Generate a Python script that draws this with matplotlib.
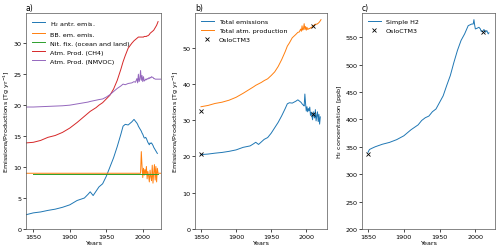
import numpy as np
from matplotlib import pyplot as plt

nan = np.nan

# common year grid for panel a (2025 only used by the flat BB line / NMVOC)
years = [1840, 1850, 1860, 1870, 1880, 1890, 1900, 1910, 1920, 1925, 1928, 1932, 1936,
         1940, 1945, 1950, 1955, 1960, 1965, 1970, 1973, 1976, 1980, 1985, 1988, 1990,
         1992, 1993, 1994, 1995, 1996, 1997, 1998, 1999, 2000, 2001, 2002, 2003, 2004,
         2005, 2006, 2007, 2008, 2009, 2010, 2011, 2012, 2013, 2014, 2015, 2016, 2017,
         2018, 2019, 2020, 2021, 2025]

h2_antr = [2.3, 2.6, 2.75, 3.0, 3.2, 3.5, 3.9, 4.6, 5.0, 5.6, 6.0, 5.4, 6.1,
           6.8, 7.3, 8.5, 10.0, 11.5, 13.3, 15.3, 16.6, 16.9, 16.8, 17.3, 17.7, 17.4,
           17.1, 16.9, 16.6, 16.4, 16.2, 16.0, 15.8, 15.5, 15.3, 15.0, 14.7, 14.7, 14.8,
           14.6, 14.3, 14.0, 13.8, 13.6, 13.9, 13.8, 13.9, 13.7, 13.5, 13.2, 13.0, 12.8,
           12.6, 12.4, 12.2, nan, nan]

bb_emis = [9.0] * 31 + [9.0, 12.5, 10.2, 8.3, 9.8, 8.7, 9.6, 8.9, 10.1, 8.1, 9.3, 8.6,
                        7.6, 9.5, 8.4, 7.8, 10.3, 7.4, 9.1, 10.4, 7.9, 10.1, 7.6, 9.8,
                        9.0, 9.0]

nit_fix = [nan] + [8.9] * 55 + [nan]

prod_ch4 = [13.9, 14.0, 14.3, 14.8, 15.1, 15.6, 16.3, 17.2, 18.2, 18.7, 19.0, 19.3, 19.6,
            20.0, 20.4, 21.0, 21.6, 22.6, 24.0, 25.8, 27.0, 28.0, 29.2, 30.0, 30.4, 30.6,
            30.8, 30.9, 31.0, 31.0, 31.0, 31.0, 31.0, 31.0, 31.0, 31.0, 31.1, 31.1, 31.1,
            31.1, 31.2, 31.2, 31.3, 31.4, 31.6, 31.7, 31.8, 31.9, 32.0, 32.1, 32.3, 32.5,
            32.7, 32.9, 33.2, 33.5, nan]

prod_nmvoc = [19.7, 19.7, 19.75, 19.8, 19.85, 19.9, 20.0, 20.2, 20.4, 20.5, 20.6, 20.7, 20.8,
              20.9, 21.0, 21.3, 21.7, 22.2, 22.7, 23.1, 23.4, 23.3, 23.5, 23.6, 23.8, 23.7,
              24.3, 23.6, 25.0, 23.8, 24.2, 25.6, 24.0, 24.8, 23.8, 24.6, 23.9, 24.0, 24.2,
              24.1, 24.3, 24.2, 24.4, 24.3, 24.5, 24.4, 24.6, 24.5, 24.5, 24.3, 24.3, 24.2,
              24.2, 24.2, 24.2, 24.2, 24.2]

# OsloCTM3 reference values
ctm_years = [1850, 2010]
ctm_emis = [20.8, 31.8]
ctm_prod = [32.4, 55.9]
ctm_conc = [337, 559]

# simple H2 concentration
conc_years = [1850, 1852, 1855, 1860, 1870, 1880, 1890, 1900, 1910, 1920, 1925, 1930, 1935,
              1940, 1945, 1950, 1955, 1960, 1965, 1970, 1975, 1980, 1985, 1990, 1995, 1997,
              1998, 1999, 2000, 2002, 2005, 2007, 2008, 2010, 2012, 2014, 2016, 2018, 2019]
conc = [340, 345, 347, 350, 354.6, 358, 363, 370, 381, 390, 398, 403, 406,
        414, 419, 431, 443, 462, 480, 504, 526, 544, 556, 571, 574, 574,
        582, 572, 565, 566, 568, 565, 561, 560, 564, 559, 562, 556, 558]

yrs = np.array(years)
total_emis = np.array(h2_antr) + np.array(bb_emis) + np.array(nit_fix)
total_prod = np.array(prod_ch4) + np.array(prod_nmvoc)
sel = (yrs >= 1850) & (yrs <= 2021)

plt.rcParams.update({'font.size': 4.6, 'lines.linewidth': 0.7, 'axes.linewidth': 0.5,
                     'axes.edgecolor': '#555555',
                     'xtick.major.width': 0.5, 'ytick.major.width': 0.5,
                     'xtick.major.size': 2, 'ytick.major.size': 2,
                     'xtick.major.pad': 1.5, 'ytick.major.pad': 1.2})

fig = plt.figure(figsize=(5, 2.53), dpi=100)
ax1 = fig.add_axes([0.052, 0.091, 0.27, 0.854])
ax2 = fig.add_axes([0.39, 0.091, 0.264, 0.854])
ax3 = fig.add_axes([0.724, 0.091, 0.266, 0.854])

ax1.plot(yrs, h2_antr, color='C0', label='H$_2$ antr. emis.')
ax1.plot(yrs, bb_emis, color='C1', label='BB. em. emis.')
ax1.plot(yrs, nit_fix, color='C2', label='Nit. fix. (ocean and land)')
ax1.plot(yrs, prod_ch4, color='C3', label='Atm. Prod. (CH4)')
ax1.plot(yrs, prod_nmvoc, color='C4', label='Atm. Prod. (NMVOC)')
ax1.set_xlim(1840, 2025)
ax1.set_ylim(0, 34.9)
ax1.set_ylabel('Emissions/Productions [Tg yr$^{-1}$]', labelpad=1)
ax1.set_title('a)', loc='left', pad=2)

ax2.plot(yrs[sel], total_emis[sel], color='C0', label='Total emissions')
ax2.plot(yrs[sel], total_prod[sel], color='C1', label='Total atm. production')
ax2.plot(ctm_years, ctm_emis, 'x', color='k', ms=3, mew=0.6, label='OsloCTM3')
ax2.plot(ctm_years, ctm_prod, 'x', color='k', ms=3, mew=0.6)
ax2.set_ylim(bottom=0)
ax2.set_ylabel('Emissions/Productions [Tg yr$^{-1}$]', labelpad=1)
ax2.set_title('b)', loc='left', pad=2)

ax3.plot(conc_years, conc, color='C0', label='Simple H2')
ax3.plot(ctm_years, ctm_conc, 'x', color='k', ms=3, mew=0.6, label='OsloCTM3')
ax3.set_ylim(bottom=200)
ax3.set_ylabel('H$_2$ concentration [ppb]', labelpad=1)
ax3.set_title('c)', loc='left', pad=2)

for ax in (ax1, ax2, ax3):
    ax.set_xlabel('Years', labelpad=1)
    ax.set_xticks([1850, 1900, 1950, 2000])
    ax.legend(loc='upper left', frameon=False, handlelength=2.0, handletextpad=0.8,
              labelspacing=0.55)

plt.savefig('out.png', dpi=100)
